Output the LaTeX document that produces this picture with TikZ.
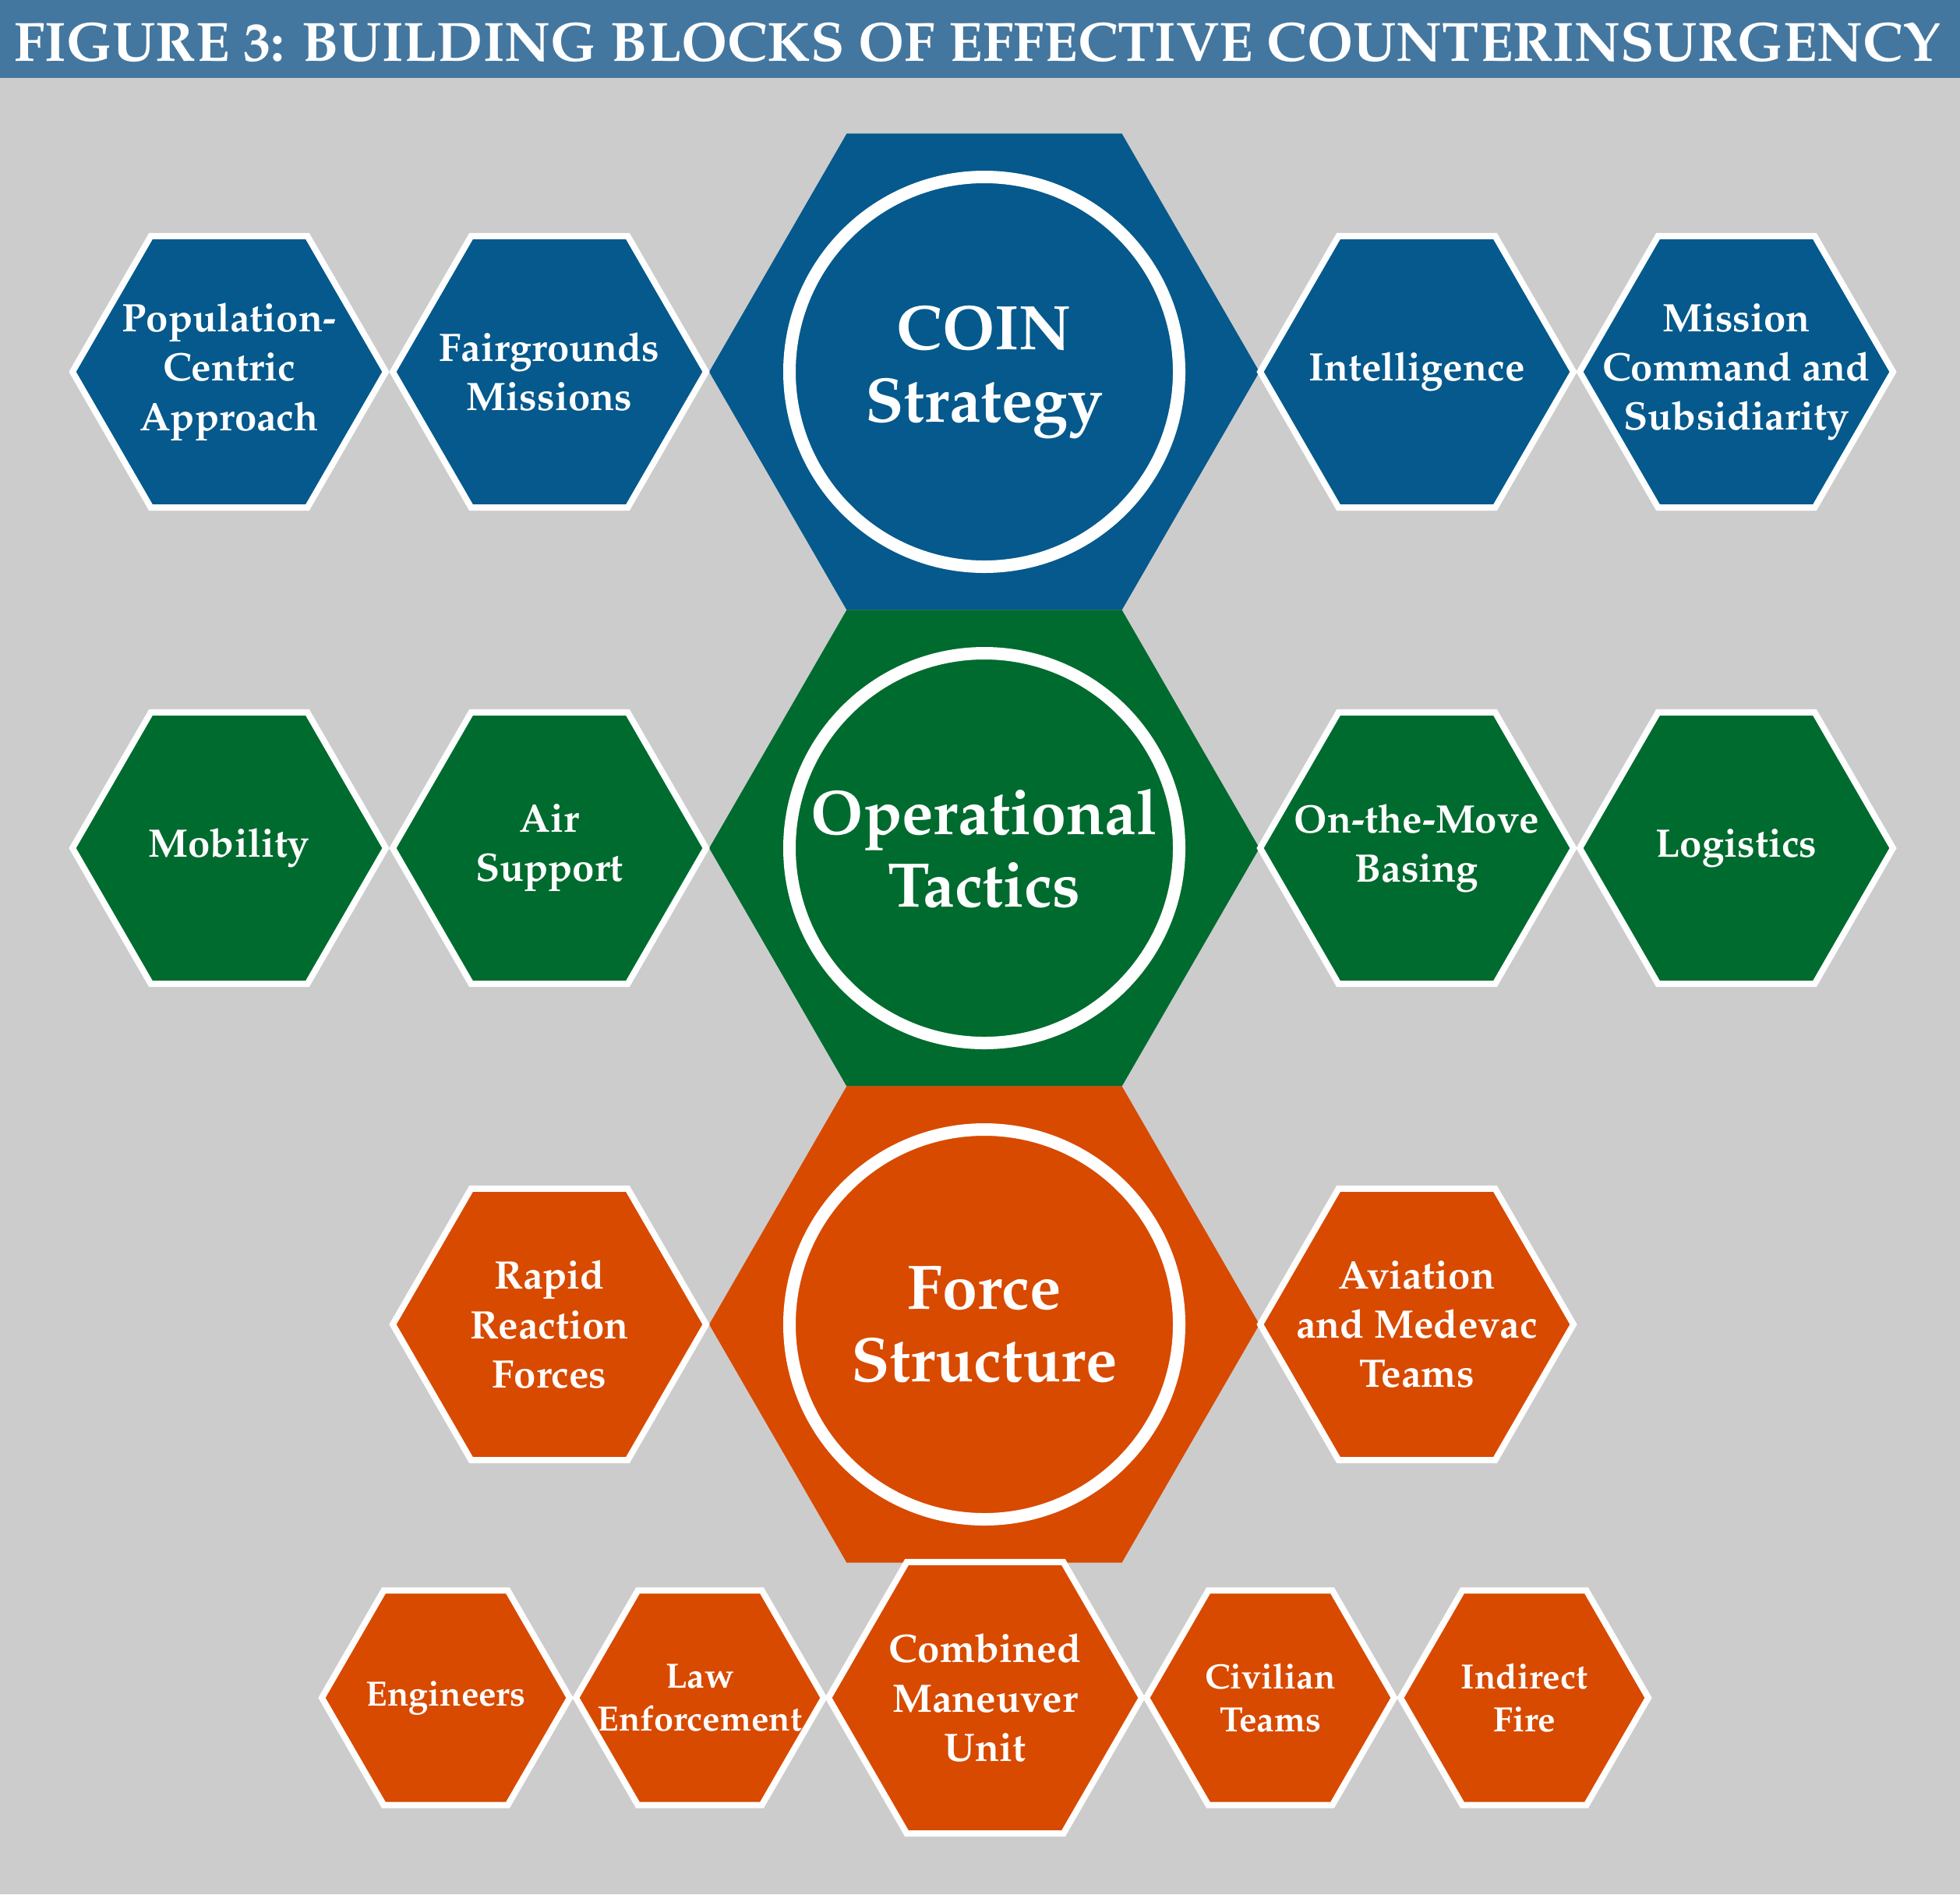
\documentclass[tikz,border=0pt]{standalone}
\usepackage[T1]{fontenc}
\usepackage{mathpazo}
\usetikzlibrary{shapes.geometric}
\definecolor{bgfill}{HTML}{CCCCCC}
\definecolor{titlefill}{HTML}{44779F}
\definecolor{coinblue}{HTML}{05598C}
\definecolor{tacgreen}{HTML}{006B2F}
\definecolor{forceorange}{HTML}{D84A00}

\begin{document}
\begin{tikzpicture}[
  bighex/.style={regular polygon, regular polygon sides=6, minimum size=7.06cm,
                 inner sep=0pt, draw=none},
  ring/.style={circle, draw=white, line width=0.16cm, minimum size=5.0cm,
               inner sep=0pt, align=center, text=white,
               font=\fontsize{23}{26.5}\selectfont\bfseries},
  hex/.style={regular polygon, regular polygon sides=6, minimum size=4.02cm,
              inner sep=0pt, draw=white, line width=0.08cm},
  minihex/.style={hex, minimum size=3.18cm},
  lbl/.style={align=center, text=white, inner sep=0pt,
              font=\fontsize{14.5}{18}\selectfont\bfseries},
  minilbl/.style={lbl, font=\fontsize{12.8}{15.6}\selectfont\bfseries},
  title/.style={text=white, inner sep=0pt, font=\fontsize{20.2}{23}\selectfont\bfseries},
]
\useasboundingbox (0,0) rectangle (25.15,-24.30);
\fill[bgfill] (0,0) rectangle (25.15,-24.30);
\fill[titlefill] (0,0) rectangle (25.15,-1.00);
\node[title] (heading) at (12.54,-0.54) {FIGURE 3: BUILDING BLOCKS OF EFFECTIVE COUNTERINSURGENCY};

% central column
\node[bighex, fill=coinblue] (coin) at (12.63,-4.77) {};
\node[bighex, fill=tacgreen] (tactics) at (12.63,-10.88) {};
\node[bighex, fill=forceorange] (force) at (12.63,-16.99) {};
\node[ring, fill=coinblue] (coin-c) at (coin) {COIN\\Strategy};
\node[ring, fill=tacgreen] (tactics-c) at (tactics) {Operational\\Tactics};
\node[ring, fill=forceorange] (force-c) at (force) {Force\\Structure};

% strategy row
\node[hex, fill=coinblue, label={[lbl, name=popcentric-t]center:Population-\\Centric\\Approach}] (popcentric) at (2.94,-4.77) {};
\node[hex, fill=coinblue, label={[lbl, name=fairgrounds-t]center:Fairgrounds\\Missions}] (fairgrounds) at (7.05,-4.77) {};
\node[hex, fill=coinblue, label={[lbl, name=intel-t]center:Intelligence}] (intel) at (18.18,-4.77) {};
\node[hex, fill=coinblue, label={[lbl, name=mission-t]center:Mission\\Command and\\Subsidiarity}] (mission) at (22.28,-4.77) {};

% tactics row
\node[hex, fill=tacgreen, label={[lbl, name=mobility-t]center:Mobility}] (mobility) at (2.94,-10.88) {};
\node[hex, fill=tacgreen, label={[lbl, name=airsupport-t]center:Air\\Support}] (airsupport) at (7.05,-10.88) {};
\node[hex, fill=tacgreen, label={[lbl, name=basing-t]center:On-the-Move\\Basing}] (basing) at (18.18,-10.88) {};
\node[hex, fill=tacgreen, label={[lbl, name=logistics-t]center:Logistics}] (logistics) at (22.28,-10.88) {};

% force row
\node[hex, fill=forceorange, label={[lbl, name=rapid-t]center:Rapid\\Reaction\\Forces}] (rapid) at (7.05,-16.99) {};
\node[hex, fill=forceorange, label={[lbl, name=aviation-t]center:Aviation\\and Medevac\\Teams}] (aviation) at (18.18,-16.99) {};

% bottom row
\node[minihex, fill=forceorange, label={[minilbl, name=engineers-t]center:Engineers}] (engineers) at (5.72,-21.78) {};
\node[minihex, fill=forceorange, label={[minilbl, name=lawenf-t]center:Law\\Enforcement}] (lawenf) at (8.98,-21.78) {};
\node[hex, fill=forceorange, label={[lbl, name=combined-t]center:Combined\\Maneuver\\Unit}] (combined) at (12.64,-21.78) {};
\node[minihex, fill=forceorange, label={[minilbl, name=civilian-t]center:Civilian\\Teams}] (civilian) at (16.30,-21.78) {};
\node[minihex, fill=forceorange, label={[minilbl, name=indirect-t]center:Indirect\\Fire}] (indirect) at (19.56,-21.78) {};
\end{tikzpicture}
\end{document}
